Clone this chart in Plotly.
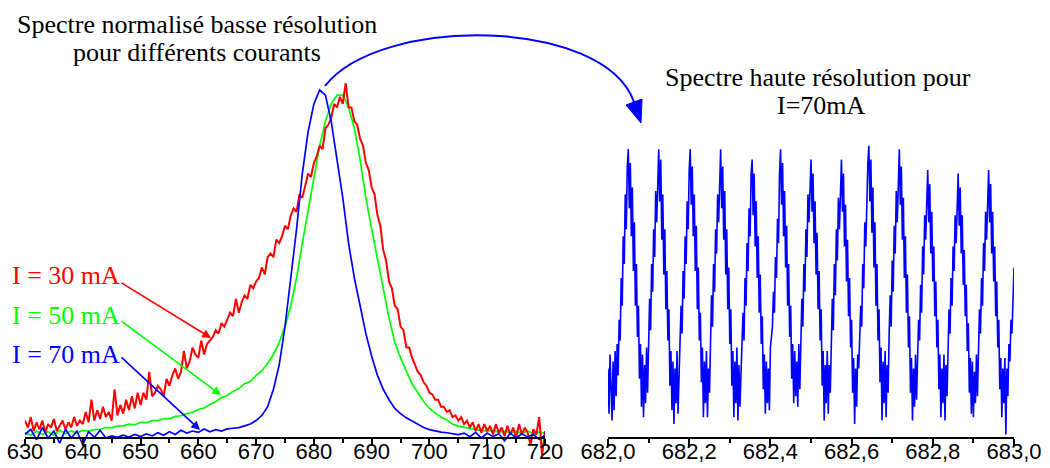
import plotly.graph_objects as go

W, H = 1050, 468


def px(x):
    return x / W


def py(y):
    return 1 - y / H


# ---------------- Low-resolution normalised spectra (left panel) ----------------
wl_half_nm = [630 + 0.5 * i for i in range(181)]   # 630 .. 720 nm, 0.5 nm sampling
wl_1nm = [630 + i for i in range(91)]               # 630 .. 720 nm, 1 nm sampling

red_30mA = [
    0.05, 0.03, 0.06, 0.02, 0.045, 0.025, 0.05, 0.015, 0.04, 0.03,
    0.055, 0.02, 0.035, 0.05, 0.025, 0.045, 0.03, 0.06, 0.035, 0.05,
    0.04, 0.075, 0.045, 0.11, 0.05, 0.08, 0.055, 0.09, 0.06, 0.075,
    0.05, 0.14, 0.065, 0.095, 0.07, 0.11, 0.08, 0.12, 0.085, 0.13,
    0.095, 0.13, 0.11, 0.19, 0.12, 0.13, 0.15, 0.14, 0.12, 0.17,
    0.15, 0.18, 0.2, 0.17, 0.19, 0.25, 0.2, 0.22, 0.26, 0.24,
    0.23, 0.28, 0.24, 0.27, 0.28, 0.29, 0.31, 0.3, 0.33, 0.32,
    0.34, 0.36, 0.35, 0.4, 0.36, 0.39, 0.41, 0.4, 0.44, 0.43,
    0.45, 0.46, 0.49, 0.47, 0.52, 0.53, 0.52, 0.57, 0.56, 0.58,
    0.61, 0.6, 0.64, 0.66, 0.65, 0.7, 0.69, 0.73, 0.76, 0.75,
    0.79, 0.81, 0.84, 0.83, 0.89, 0.9, 0.92, 0.96, 0.95, 0.98,
    0.96, 1.02, 0.95, 0.95, 0.91, 0.9, 0.86, 0.84, 0.79, 0.77,
    0.72, 0.7, 0.64, 0.61, 0.54, 0.51, 0.45, 0.43, 0.38, 0.37,
    0.32, 0.31, 0.26, 0.26, 0.23, 0.21, 0.19, 0.18, 0.16, 0.15,
    0.13, 0.125, 0.11, 0.11, 0.09, 0.09, 0.075, 0.08, 0.06, 0.065,
    0.05, 0.06, 0.04, 0.05, 0.03, 0.045, 0.02, 0.04, 0.015, 0.04,
    0.02, 0.035, 0.01, 0.04, 0.015, 0.03, 0.005, 0.035, 0.01, 0.03,
    0.0, 0.04, 0.01, 0.03, 0.015, -0.02, 0.025, 0.01, 0.06, -0.05,
    0.02,
]

green_50mA = [
    0.015, 0.008, 0.02, 0.01, 0.018, 0.008, 0.022, 0.012, 0.02, 0.014,
    0.022, 0.02, 0.024, 0.025, 0.03, 0.03, 0.034, 0.035, 0.04, 0.038,
    0.045, 0.044, 0.05, 0.05, 0.056, 0.055, 0.062, 0.064, 0.07, 0.074,
    0.082, 0.086, 0.096, 0.104, 0.116, 0.122, 0.134, 0.142, 0.156, 0.162,
    0.18, 0.193, 0.215, 0.24, 0.275, 0.32, 0.38, 0.46, 0.56, 0.65,
    0.75, 0.84, 0.91, 0.96, 0.985, 0.985, 0.95, 0.89, 0.8, 0.69,
    0.6, 0.51, 0.43, 0.345, 0.275, 0.23, 0.19, 0.155, 0.13, 0.105,
    0.085, 0.072, 0.06, 0.052, 0.04, 0.034, 0.03, 0.026, 0.024, 0.022,
    0.02, 0.022, 0.016, 0.02, 0.015, 0.019, 0.013, 0.02, 0.012, 0.017,
    0.014,
]

blue_70mA = [
    0.01, 0.025, -0.005, 0.03, 0.0, 0.02, -0.015, 0.025, 0.0, 0.02,
    -0.02, 0.018, 0.002, 0.022, 0.0, 0.006, 0.002, 0.008, 0.003, 0.01,
    0.004, 0.012, 0.006, 0.015, 0.008, 0.018, 0.01, 0.022, 0.014, 0.02,
    0.016, 0.026, 0.018, 0.024, 0.02, 0.026, 0.028, 0.03, 0.035, 0.04,
    0.05, 0.065, 0.09, 0.14, 0.21, 0.32, 0.46, 0.6, 0.76, 0.88,
    0.96, 1.0, 0.985, 0.91, 0.8, 0.69, 0.56, 0.46, 0.38, 0.3,
    0.235, 0.18, 0.14, 0.11, 0.085, 0.07, 0.058, 0.048, 0.038, 0.03,
    0.024, 0.02, 0.017, 0.015, 0.012, 0.01, 0.014, 0.004, 0.016, 0.0,
    0.014, 0.004, 0.012, -0.008, 0.014, 0.0, 0.012, 0.003, 0.01, -0.004,
    0.008,
]

# ---------------- High-resolution spectrum at 70 mA (right panel) ----------------
# 401 samples, 682.000 .. 683.000 nm (0.0025 nm sampling); one row per fringe
hr_70mA = [
    0.2, 0.07, 0.24, 0.1, 0.05, 0.22, 0.08, 0.25, 0.12, 0.27, 0.18, 0.34, 0.28, 0.46, 0.38, 0.58, 0.5, 0.7, 0.6, 0.78,
    0.83, 0.66, 0.79, 0.58, 0.72, 0.48, 0.62, 0.38, 0.5, 0.29, 0.38, 0.17, 0.27, 0.09, 0.24, 0.06, 0.21, 0.1, 0.26, 0.13,
    0.3, 0.4, 0.31, 0.5, 0.42, 0.6, 0.52, 0.71, 0.62, 0.78,
    0.83, 0.68, 0.8, 0.57, 0.7, 0.47, 0.6, 0.37, 0.48, 0.28, 0.37, 0.15, 0.25, 0.08, 0.22, 0.04, 0.2, 0.1, 0.25, 0.07,
    0.22, 0.28, 0.38, 0.3, 0.48, 0.4, 0.58, 0.5, 0.68, 0.6, 0.77,
    0.83, 0.67, 0.78, 0.58, 0.7, 0.48, 0.61, 0.37, 0.49, 0.28, 0.36, 0.16, 0.26, 0.06, 0.22, 0.1, 0.25, 0.06, 0.2, 0.13,
    0.3, 0.41, 0.32, 0.5, 0.42, 0.6, 0.53, 0.7, 0.62, 0.78,
    0.83, 0.66, 0.78, 0.57, 0.71, 0.47, 0.6, 0.37, 0.49, 0.27, 0.37, 0.15, 0.25, 0.06, 0.22, 0.1, 0.26, 0.05, 0.21, 0.09,
    0.2, 0.27, 0.36, 0.28, 0.46, 0.38, 0.56, 0.48, 0.66, 0.58, 0.76,
    0.8, 0.64, 0.76, 0.55, 0.68, 0.46, 0.58, 0.36, 0.47, 0.27, 0.35, 0.14, 0.24, 0.07, 0.22, 0.1, 0.2, 0.08, 0.26, 0.3,
    0.32, 0.42, 0.36, 0.52, 0.46, 0.63, 0.56, 0.76,
    0.83, 0.67, 0.79, 0.58, 0.71, 0.49, 0.61, 0.38, 0.5, 0.29, 0.38, 0.17, 0.27, 0.1, 0.25, 0.12, 0.22, 0.09, 0.27, 0.14,
    0.3, 0.4, 0.32, 0.5, 0.42, 0.6, 0.52, 0.7, 0.62, 0.76,
    0.8, 0.65, 0.76, 0.56, 0.68, 0.47, 0.59, 0.37, 0.48, 0.28, 0.37, 0.15, 0.25, 0.05, 0.21, 0.1, 0.25, 0.07, 0.21, 0.13,
    0.3, 0.4, 0.31, 0.5, 0.41, 0.6, 0.51, 0.69, 0.6, 0.75,
    0.8, 0.65, 0.76, 0.55, 0.67, 0.45, 0.57, 0.35, 0.46, 0.26, 0.34, 0.13, 0.23, 0.04, 0.2, 0.09, 0.24, 0.2, 0.3, 0.38,
    0.32, 0.5, 0.43, 0.62, 0.55, 0.72, 0.79,
    0.84, 0.68, 0.8, 0.59, 0.72, 0.49, 0.62, 0.38, 0.5, 0.28, 0.37, 0.16, 0.26, 0.05, 0.22, 0.1, 0.25, 0.06, 0.21, 0.13,
    0.3, 0.41, 0.32, 0.51, 0.42, 0.61, 0.53, 0.71, 0.62, 0.78,
    0.83, 0.67, 0.78, 0.57, 0.69, 0.46, 0.58, 0.36, 0.47, 0.26, 0.35, 0.13, 0.23, 0.05, 0.2, 0.09, 0.24, 0.11, 0.27, 0.34,
    0.28, 0.44, 0.36, 0.55, 0.47, 0.64, 0.57, 0.72,
    0.77, 0.62, 0.73, 0.53, 0.65, 0.45, 0.55, 0.35, 0.45, 0.26, 0.34, 0.14, 0.24, 0.06, 0.2, 0.1, 0.24, 0.05, 0.21, 0.12,
    0.28, 0.37, 0.3, 0.46, 0.38, 0.55, 0.48, 0.64, 0.56, 0.71,
    0.76, 0.61, 0.72, 0.53, 0.64, 0.44, 0.54, 0.35, 0.44, 0.25, 0.33, 0.13, 0.23, 0.07, 0.22, 0.06, 0.19, 0.1, 0.24, 0.12,
    0.28, 0.37, 0.3, 0.46, 0.38, 0.56, 0.48, 0.65, 0.57, 0.72,
    0.77, 0.62, 0.73, 0.53, 0.65, 0.45, 0.55, 0.35, 0.45, 0.26, 0.34, 0.14, 0.23, 0.06, 0.2, 0.1, 0.23, 0.01, 0.2, 0.12,
    0.27, 0.22, 0.34, 0.3, 0.43, 0.49,
]
wl_hr = [682 + 0.0025 * k for k in range(len(hr_70mA))]

# ---------------- Tick labels ----------------
left_ticks = [630, 640, 650, 660, 670, 680, 690, 700, 710, 720]
left_ticktext = ["630", "640", "650", "660", "670", "680", "690", "700", "710", "720"]
left_minor = [635, 645, 655, 665, 675, 685, 695, 705, 715]
right_ticks = [682.0, 682.2, 682.4, 682.6, 682.8, 683.0]
right_ticktext = ["682,0", "682,2", "682,4", "682,6", "682,8", "683,0"]
right_minor = [682.1, 682.3, 682.5, 682.7, 682.9]

RED, GREEN, BLUE = "#ff0000", "#00ff00", "#0000ff"
SERIF = "Liberation Serif, Times New Roman, serif"
SANS = "Liberation Sans, Arial, sans-serif"

fig = go.Figure()
fig.add_trace(go.Scatter(x=wl_1nm, y=green_50mA, mode="lines", xaxis="x", yaxis="y",
                         line=dict(color=GREEN, width=1.7), hoverinfo="skip"))
fig.add_trace(go.Scatter(x=wl_half_nm, y=red_30mA, mode="lines", xaxis="x", yaxis="y",
                         line=dict(color=RED, width=2), hoverinfo="skip"))
fig.add_trace(go.Scatter(x=wl_1nm, y=blue_70mA, mode="lines", xaxis="x", yaxis="y",
                         line=dict(color=BLUE, width=1.7), hoverinfo="skip"))
fig.add_trace(go.Scatter(x=wl_hr, y=hr_70mA, mode="lines", xaxis="x2", yaxis="y2",
                         line=dict(color=BLUE, width=1.6), hoverinfo="skip"))

y_domain = [py(460), py(80)]
y_range = [(438 - 460) / 348, (438 - 80) / 348]

axis_common = dict(
    anchor="free", position=py(438), showline=True, linecolor="black", linewidth=2,
    ticks="outside", ticklen=7, tickwidth=1.5, tickcolor="black", tickmode="array",
    tickfont=dict(family=SANS, size=22, color="black"), showgrid=False, zeroline=False,
    fixedrange=True, automargin=False, ticklabelstandoff=-13,
)

fig.update_layout(
    width=W, height=H,
    margin=dict(l=0, r=0, t=0, b=0, pad=0, autoexpand=False),
    paper_bgcolor="white", plot_bgcolor="rgba(0,0,0,0)",
    showlegend=False,
    xaxis=dict(domain=[px(25), px(545)], range=[630, 720], tickvals=left_ticks,
               ticktext=left_ticktext,
               minor=dict(tickmode="array", tickvals=left_minor, ticklen=4, tickwidth=1.5,
                          tickcolor="black", ticks="outside"),
               **axis_common),
    yaxis=dict(domain=y_domain, range=y_range, visible=False, fixedrange=True, automargin=False),
    xaxis2=dict(domain=[px(608), px(1014)], range=[682, 683], tickvals=right_ticks,
                ticktext=right_ticktext,
                minor=dict(tickmode="array", tickvals=right_minor, ticklen=4, tickwidth=1.5,
                           tickcolor="black", ticks="outside"),
                **axis_common),
    yaxis2=dict(domain=y_domain, range=y_range, visible=False, fixedrange=True, automargin=False),
)

# ---------------- Text annotations ----------------
def text(x, y, s, color="black", size=26, xanchor="center"):
    fig.add_annotation(x=px(x), y=py(y), xref="paper", yref="paper", text=s,
                       showarrow=False, xanchor=xanchor, yanchor="middle",
                       font=dict(family=SERIF, size=size, color=color))


text(197, 24, "Spectre normalisé basse résolution")
text(197, 52, "pour différents courants")
text(818, 78, "Spectre haute résolution pour")
text(821, 106, "I=70mA")
text(10, 275, "I = 30 mA", RED, xanchor="left")
text(10, 315, "I = 50 mA", GREEN, xanchor="left")
text(10, 354, "I = 70 mA", BLUE, xanchor="left")


def arrow(x0, y0, x1, y1, color):
    fig.add_annotation(x=px(x1), y=py(y1), xref="paper", yref="paper",
                       ax=x0 - x1, ay=y0 - y1, axref="pixel", ayref="pixel",
                       text="", showarrow=True, arrowhead=2, arrowsize=1.1,
                       arrowwidth=1.6, arrowcolor=color, standoff=0, startstandoff=0)


arrow(120, 282, 211, 338, RED)
arrow(120, 320, 221, 395, GREEN)
arrow(120, 356, 200, 430, BLUE)

# ---------------- Curved arrow linking the two panels ----------------
P0, P1, P2, P3 = (325, 86), (380, 15), (604, 17), (634, 102)
path = "M {},{} C {},{} {},{} {},{}".format(
    px(P0[0]), py(P0[1]), px(P1[0]), py(P1[1]), px(P2[0]), py(P2[1]), px(P3[0]), py(P3[1]))
fig.add_shape(type="path", path=path, xref="paper", yref="paper",
              line=dict(color=BLUE, width=2))
tip, b1, b2 = (641, 123), (642, 99), (626, 105)
head = "M {},{} L {},{} L {},{} Z".format(
    px(tip[0]), py(tip[1]), px(b1[0]), py(b1[1]), px(b2[0]), py(b2[1]))
fig.add_shape(type="path", path=head, xref="paper", yref="paper",
              line=dict(color=BLUE, width=1), fillcolor=BLUE)

fig.write_html("out.html", config={"displayModeBar": False},
               post_script="document.body.style.margin='0px';document.body.style.padding='0px';")
